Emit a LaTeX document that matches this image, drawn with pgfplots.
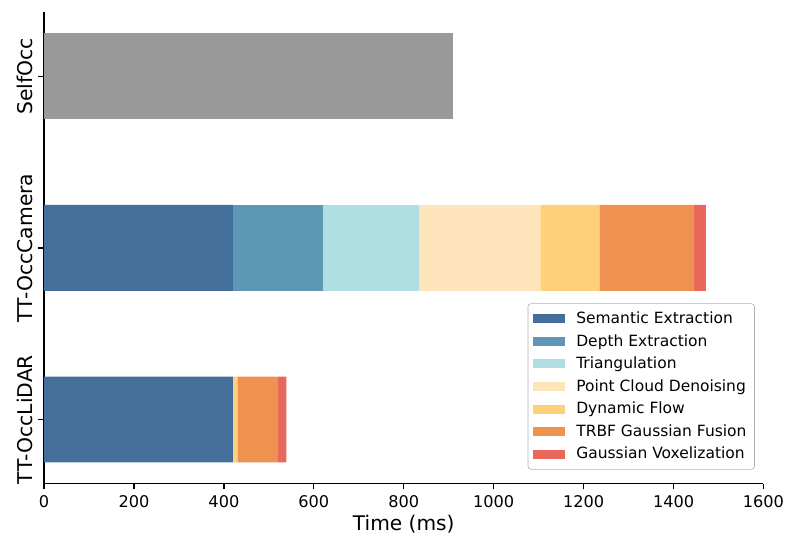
\documentclass[border=0pt]{standalone}
\usepackage{fontspec}
\setmainfont{DejaVu Sans}
\usepackage{pgfplots}
\pgfplotsset{compat=1.18}
\definecolor{cSem}{HTML}{436F9A}
\definecolor{cDep}{HTML}{5E96B5}
\definecolor{cTri}{HTML}{AEDDE2}
\definecolor{cDen}{HTML}{FEE4BA}
\definecolor{cDyn}{HTML}{FED07A}
\definecolor{cFus}{HTML}{EF9150}
\definecolor{cVox}{HTML}{E8685C}
\definecolor{cGray}{HTML}{999999}
\begin{document}
\begin{tikzpicture}
\begin{axis}[
  scale only axis,
  width=446.1pt, height=292.6pt,
  xbar stacked,
  bar width=0.5,
  y dir=reverse,
  xmin=0, xmax=1600,
  ymin=-0.375, ymax=2.375,
  xtick={0,200,...,1600},
  ytick={0,1,2},
  yticklabels={SelfOcc,TT-OccCamera,TT-OccLiDAR},
  y tick label style={rotate=90, anchor=south, font=\fontsize{12.6}{14}\selectfont},
  x tick label style={font=\fontsize{10}{12}\selectfont},
  /pgf/number format/assume math mode=true,
  /pgf/number format/1000 sep={},
  axis x line*=bottom, axis y line*=left,
  axis line style={-, line width=0.8pt},
  tick align=outside,
  major tick length=3.5pt,
  tick style={line width=0.8pt, black},
  xlabel={Time (ms)},
  xlabel style={font=\fontsize{12.5}{14}\selectfont, yshift=2pt},
  legend cell align=left,
  legend style={at={(0.988,0.030)}, anchor=south east, font=\fontsize{9.6}{11}\selectfont,
    draw=black!30, rounded corners=2pt, row sep=1.2pt, inner xsep=3pt, inner ysep=3pt},
  legend image code/.code={\fill[#1, sharp corners] (0pt,-2.8pt) rectangle (20pt,2.8pt); \path (0pt,0pt) (25pt,0pt);},
  every axis plot/.append style={draw=none},
]
\addplot[fill=cGray, forget plot] coordinates {(909,0) (0,1) (0,2)};
\addplot[fill=cSem] coordinates {(0,0) (420,1) (420,2)};
\addlegendentry{Semantic Extraction}
\addplot[fill=cDep] coordinates {(0,0) (200,1) (0,2)};
\addlegendentry{Depth Extraction}
\addplot[fill=cTri] coordinates {(0,0) (214,1) (0,2)};
\addlegendentry{Triangulation}
\addplot[fill=cDen] coordinates {(0,0) (270,1) (0,2)};
\addlegendentry{Point Cloud Denoising}
\addplot[fill=cDyn] coordinates {(0,0) (131,1) (10,2)};
\addlegendentry{Dynamic Flow}
\addplot[fill=cFus] coordinates {(0,0) (210,1) (90,2)};
\addlegendentry{TRBF Gaussian Fusion}
\addplot[fill=cVox] coordinates {(0,0) (27,1) (19,2)};
\addlegendentry{Gaussian Voxelization}
\end{axis}
\pgfresetboundingbox
\path (current axis.south west) +(-27.3pt,-39.1pt);
\path (current axis.north east) +(20.8pt,7.4pt);
\end{tikzpicture}
\end{document}
